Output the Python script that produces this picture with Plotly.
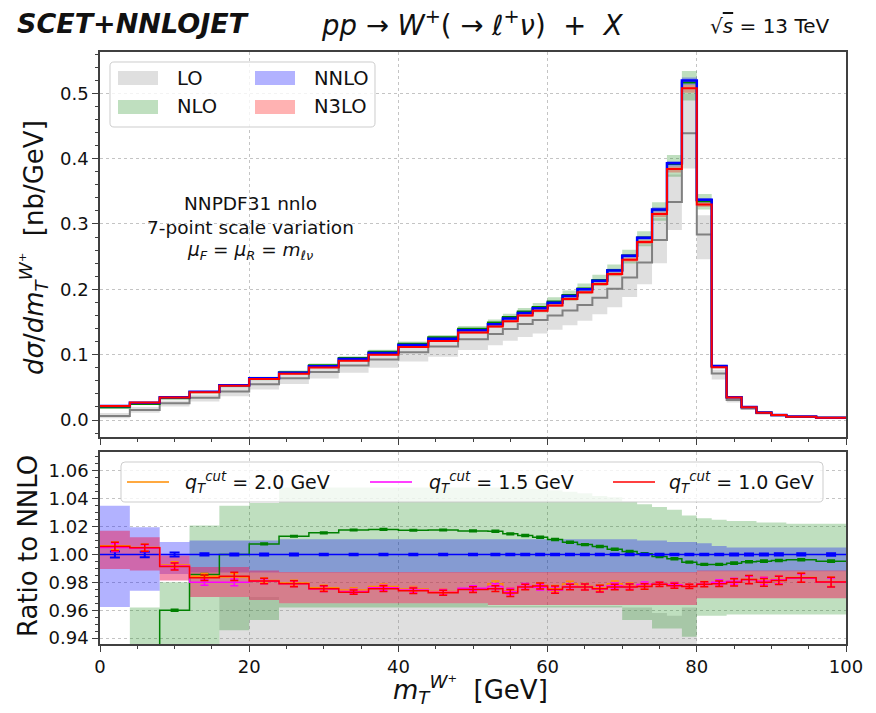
import plotly.graph_objects as go

# ---------------- data ----------------
edges = [0, 4, 8, 12, 16, 20, 24, 28, 32, 36, 40, 44, 48, 52,
         54, 56, 58, 60, 62, 64, 66, 68, 70, 72, 74, 76, 78, 80, 82, 84, 86, 88, 90, 92,
         96, 100]

# NNLO central cross section [nb/GeV]
nnlo_xs = [0.0213, 0.0266, 0.0347, 0.0433, 0.0532, 0.0638, 0.0723, 0.0824, 0.0932, 0.1025,
           0.1147, 0.1243, 0.1372,
           0.1466, 0.1553, 0.1638, 0.1710, 0.1796, 0.1898, 0.2000, 0.2132, 0.2288, 0.2512,
           0.2790, 0.3222, 0.3930, 0.5195, 0.3370, 0.0826, 0.0350, 0.0199, 0.0115, 0.0078,
           0.0052, 0.0035]

# ratios to NNLO central
lo_c = [0.28, 0.58, 0.74, 0.79, 0.823, 0.859, 0.885, 0.893, 0.897, 0.905, 0.905, 0.906, 0.902,
        0.899, 0.898, 0.897, 0.896, 0.891, 0.884, 0.880, 0.877, 0.878, 0.868, 0.864, 0.855,
        0.849, 0.845, 0.843, 0.86, 0.87, 0.88, 0.89, 0.90, 0.905, 0.91]
lo_hi = [0.50, 0.75, 0.86, 0.90, 0.9695, 0.9695, 0.965, 0.965, 0.965, 0.965, 0.965, 0.965, 0.965,
         0.963, 0.963, 0.963, 0.963, 0.963, 0.963, 0.963, 0.963, 0.963, 0.962, 0.962, 0.958,
         0.956, 0.962, 0.93, 0.93, 0.93, 0.93, 0.93, 0.93, 0.93, 0.93]
lo_lo = [0.12, 0.42, 0.60, 0.65, 0.68, 0.73, 0.76, 0.77, 0.775, 0.78, 0.78, 0.78, 0.78,
         0.78, 0.78, 0.775, 0.775, 0.77, 0.765, 0.76, 0.76, 0.755, 0.75, 0.745, 0.745,
         0.74, 0.741, 0.73, 0.75, 0.77, 0.79, 0.80, 0.81, 0.82, 0.82]

nlo_c = [0.900, 0.920, 0.960, 0.9857, 1.0000, 1.0076, 1.0131, 1.0155, 1.0176, 1.0180, 1.0174,
         1.0176, 1.0169,
         1.0167, 1.0148, 1.0136, 1.0124, 1.0107, 1.0088, 1.0071, 1.0057, 1.0038, 1.0021,
         1.0005, 0.9986, 0.9969, 0.9945, 0.9929, 0.9929, 0.9938, 0.9948, 0.9952, 0.9957,
         0.9962, 0.9952]
nlo_hi = [0.934, 0.962, 0.980, 1.0207, 1.035, 1.037, 1.048, 1.048, 1.048, 1.048, 1.048, 1.048,
          1.048,
          1.048, 1.048, 1.047, 1.047, 1.046, 1.045, 1.044, 1.042, 1.041, 1.038, 1.036, 1.034,
          1.032, 1.028, 1.026, 1.025, 1.024, 1.024, 1.023, 1.023, 1.022, 1.022]
nlo_lo = [0.86, 0.88, 0.92, 0.93, 0.9457, 0.953, 0.962, 0.962, 0.962, 0.962, 0.962, 0.962, 0.962,
          0.962, 0.962, 0.962, 0.962, 0.962, 0.962, 0.962, 0.962, 0.962, 0.953, 0.953, 0.947,
          0.947, 0.941, 0.956, 0.956, 0.957, 0.957, 0.957, 0.957, 0.957, 0.957]
nlo_err = [0.0006, 0.0006, 0.0005, 0.0005, 0.0004, 0.0004, 0.0004, 0.0004, 0.0004, 0.0004,
           0.0004, 0.0004, 0.0004, 0.0005, 0.0005, 0.0005, 0.0005, 0.0005, 0.0005, 0.0005,
           0.0005, 0.0005, 0.0005, 0.0005, 0.0005, 0.0005, 0.0005, 0.0005, 0.0005, 0.0006,
           0.0006, 0.0006, 0.0006, 0.0006, 0.0006]

nnlo_hi = [1.035, 1.0195, 1.009, 1.010, 1.010, 1.010, 1.011, 1.011, 1.011, 1.011, 1.011, 1.011,
           1.011,
           1.011, 1.011, 1.011, 1.011, 1.011, 1.011, 1.011, 1.011, 1.011, 1.011, 1.010, 1.010,
           1.009, 1.009, 1.008, 1.006, 1.005, 1.005, 1.005, 1.005, 1.005, 1.005]
nnlo_lo = [0.9624, 0.974, 0.986, 0.987, 0.987, 0.987, 0.987, 0.987, 0.987, 0.987, 0.987, 0.987,
           0.987,
           0.987, 0.987, 0.987, 0.987, 0.987, 0.987, 0.987, 0.987, 0.987, 0.987, 0.987, 0.987,
           0.987, 0.987, 0.988, 0.988, 0.988, 0.988, 0.988, 0.988, 0.988, 0.988]
nnlo_err = [0.0022, 0.0020, 0.0014, 0.0008, 0.0007, 0.0007, 0.0007, 0.0006, 0.0006, 0.0006,
            0.0006, 0.0006, 0.0006, 0.0006, 0.0006, 0.0006, 0.0006, 0.0006, 0.0006, 0.0006,
            0.0006, 0.0006, 0.0006, 0.0006, 0.0006, 0.0006, 0.0006, 0.0006, 0.0006, 0.0007,
            0.0007, 0.0007, 0.0008, 0.0008, 0.0009]

# N3LO, q_T^cut = 1.0 GeV (also shown in upper panel)
n3lo_c = [1.0057, 1.0048, 0.9914, 0.9833, 0.9843, 0.9810, 0.9790, 0.9755, 0.9730, 0.9755,
          0.9740, 0.9726, 0.9748,
          0.9755, 0.9724, 0.9767, 0.9774, 0.9748, 0.9767, 0.9767, 0.9755, 0.9767, 0.9767,
          0.9771, 0.9786, 0.9776, 0.9771, 0.9786, 0.9790, 0.9800, 0.9820, 0.9800, 0.9814,
          0.9833, 0.9802]
n3lo_hi = [1.017, 1.0124, 0.9993, 0.991, 0.991, 0.9886, 0.9874, 0.9874, 0.9874, 0.9874, 0.9874,
           0.9874, 0.9874,
           0.9874, 0.9874, 0.9874, 0.9874, 0.9874, 0.9874, 0.9874, 0.9874, 0.9874, 0.9874,
           0.9874, 0.9874, 0.9874, 0.9874, 0.9886, 0.9886, 0.9886, 0.9886, 0.9886, 0.9886,
           0.9886, 0.9886]
n3lo_lo = [0.9895, 0.9886, 0.9814, 0.9695, 0.9695, 0.9674, 0.965, 0.965, 0.965, 0.965, 0.965,
           0.965, 0.965,
           0.9638, 0.9638, 0.9638, 0.9638, 0.9638, 0.9638, 0.9638, 0.9638, 0.9638, 0.9638,
           0.9638, 0.9638, 0.9638, 0.9638, 0.9686, 0.9686, 0.9686, 0.9686, 0.9686, 0.9686,
           0.9686, 0.9686]
n3lo_err = [0.0030, 0.0025, 0.0025, 0.0020, 0.0030, 0.0020, 0.0022, 0.0020, 0.0016, 0.0020,
            0.0020, 0.0018, 0.0020, 0.0020, 0.0025, 0.0020, 0.0022, 0.0026, 0.0020, 0.0022,
            0.0024, 0.0020, 0.0022, 0.0020, 0.0015, 0.0018, 0.0015, 0.0018, 0.0020, 0.0026,
            0.0030, 0.0028, 0.0030, 0.0032, 0.0035]

# N3LO, q_T^cut = 2.0 GeV and 1.5 GeV (ratio panel only)
q20_c = [1.0062, 1.0050, 0.9925, 0.9843, 0.9838, 0.9814, 0.9795, 0.9762, 0.9745, 0.9770,
         0.9752, 0.9735, 0.9755,
         0.9790, 0.9740, 0.9770, 0.9778, 0.9755, 0.9788, 0.9772, 0.9760, 0.9790, 0.9775,
         0.9780, 0.9790, 0.9785, 0.9775, 0.9790, 0.9795, 0.9805, 0.9820, 0.9815, 0.9822,
         0.9835, 0.9805]
q20_err = [0.0028, 0.0024, 0.0022, 0.0020, 0.0025, 0.0018, 0.0020, 0.0018, 0.0016, 0.0018,
           0.0018, 0.0018, 0.0018, 0.0020, 0.0022, 0.0020, 0.0020, 0.0022, 0.0020, 0.0020,
           0.0022, 0.0020, 0.0020, 0.0018, 0.0015, 0.0016, 0.0015, 0.0016, 0.0018, 0.0022,
           0.0026, 0.0026, 0.0028, 0.0030, 0.0032]
q15_c = [1.0050, 1.0045, 0.9918, 0.9800, 0.9800, 0.9808, 0.9790, 0.9752, 0.9735, 0.9762,
         0.9745, 0.9730, 0.9758,
         0.9770, 0.9735, 0.9772, 0.9765, 0.9745, 0.9770, 0.9768, 0.9752, 0.9775, 0.9770,
         0.9785, 0.9788, 0.9783, 0.9772, 0.9788, 0.9800, 0.9808, 0.9818, 0.9810, 0.9818,
         0.9830, 0.9800]
q15_err = [0.0028, 0.0024, 0.0022, 0.0020, 0.0025, 0.0018, 0.0020, 0.0018, 0.0016, 0.0018,
           0.0018, 0.0018, 0.0018, 0.0020, 0.0022, 0.0020, 0.0020, 0.0022, 0.0020, 0.0020,
           0.0022, 0.0020, 0.0020, 0.0018, 0.0015, 0.0016, 0.0015, 0.0016, 0.0018, 0.0022,
           0.0026, 0.0026, 0.0028, 0.0030, 0.0032]

legend_top = ["LO", "NLO", "NNLO", "N3LO"]
legend_bottom = ["2.0", "1.5", "1.0"]

# ---------------- styling / geometry ----------------
FONT = "DejaVu Sans"
W, H = 876, 713
L, R, T, B = 100, 30, 52, 69
PW, PH = W - L - R, H - T - B
TOP_DOM = [(H - B - 437) / PH, 1.0]
BOT_DOM = [0.0, (H - B - 452) / PH]

C_LO, C_NLO, C_NNLO, C_N3LO = "#808080", "#008000", "#0000ff", "#ff0000"
F_LO = "rgba(128,128,128,0.25)"
F_NLO = "rgba(0,128,0,0.25)"
F_NNLO = "rgba(0,0,255,0.3)"
F_N3LO = "rgba(255,0,0,0.3)"
F_N3LO_R = "rgba(235,30,90,0.5)"


def pp(x, y):
    return (x - L) / PW, (H - B - y) / PH


nb = len(nnlo_xs)
centers = [(edges[i] + edges[i + 1]) / 2 for i in range(nb)]


def scale(r):
    return [a * b for a, b in zip(nnlo_xs, r)]


def steps(vals):
    xs, ys = [], []
    for i, v in enumerate(vals):
        xs += [edges[i], edges[i + 1]]
        ys += [v, v]
    return xs, ys


def band(lo, hi, color, xa, ya):
    xh, yh = steps(hi)
    xl, yl = steps(lo)
    return go.Scatter(x=xh + xl[::-1], y=yh + yl[::-1], fill="toself", fillcolor=color,
                      line=dict(width=0), mode="lines", xaxis=xa, yaxis=ya,
                      hoverinfo="skip", showlegend=False)


def stepline(vals, color, width, xa, ya):
    return go.Scatter(x=edges, y=list(vals) + [vals[-1]], mode="lines",
                      line=dict(color=color, width=width, shape="hv"),
                      xaxis=xa, yaxis=ya, hoverinfo="skip", showlegend=False)


def errbars(vals, errs, color, xa, ya, cap=4, th=1.5):
    return go.Scatter(x=centers, y=vals, mode="markers",
                      marker=dict(size=1, color="rgba(0,0,0,0)"),
                      error_y=dict(type="data", array=errs, color=color, thickness=th, width=cap),
                      xaxis=xa, yaxis=ya, hoverinfo="skip", showlegend=False)


ones = [1.0 for _ in nnlo_xs]
traces = []
# ---- upper panel ----
traces.append(band(scale(lo_lo), scale(lo_hi), F_LO, "x", "y"))
traces.append(band(scale(nlo_lo), scale(nlo_hi), F_NLO, "x", "y"))
traces.append(band(scale(nnlo_lo), scale(nnlo_hi), F_NNLO, "x", "y"))
traces.append(band(scale(n3lo_lo), scale(n3lo_hi), F_N3LO, "x", "y"))
traces.append(stepline(scale(lo_c), C_LO, 2, "x", "y"))
traces.append(stepline(scale(nlo_c), C_NLO, 2, "x", "y"))
traces.append(stepline(nnlo_xs, C_NNLO, 2.5, "x", "y"))
traces.append(stepline(scale(n3lo_c), C_N3LO, 2, "x", "y"))

# ---- ratio panel ----
traces.append(band(lo_lo, lo_hi, F_LO, "x2", "y2"))
traces.append(band(nlo_lo, nlo_hi, F_NLO, "x2", "y2"))
traces.append(band(nnlo_lo, nnlo_hi, F_NNLO, "x2", "y2"))
traces.append(band(n3lo_lo, n3lo_hi, F_N3LO_R, "x2", "y2"))
traces.append(stepline(lo_c, C_LO, 1.5, "x2", "y2"))
traces.append(stepline(nlo_c, C_NLO, 1.5, "x2", "y2"))
traces.append(errbars(nlo_c, nlo_err, C_NLO, "x2", "y2", cap=4, th=2))
traces.append(stepline(ones, C_NNLO, 1.5, "x2", "y2"))
traces.append(errbars(ones, nnlo_err, C_NNLO, "x2", "y2", cap=5, th=2))
traces.append(stepline(q20_c, "#ff8c00", 1.5, "x2", "y2"))
traces.append(errbars(q20_c, q20_err, "#ff8c00", "x2", "y2"))
traces.append(stepline(q15_c, "#ff00ff", 1.5, "x2", "y2"))
traces.append(errbars(q15_c, q15_err, "#ff00ff", "x2", "y2"))
traces.append(stepline(n3lo_c, C_N3LO, 1.5, "x2", "y2"))
traces.append(errbars(n3lo_c, n3lo_err, C_N3LO, "x2", "y2"))

fig = go.Figure(traces)

AX = "#404040"
tickfont = dict(family=FONT, size=18, color="#111")
common = dict(showline=True, linecolor=AX, linewidth=1.5, mirror=True, ticks="outside",
              ticklen=6, tickwidth=1.2, tickcolor=AX, showgrid=True, gridcolor="#c4c4c4",
              griddash="dot", gridwidth=1, zeroline=False, tickfont=tickfont)

fig.update_layout(
    width=W, height=H, margin=dict(l=L, r=R, t=T, b=B),
    paper_bgcolor="white", plot_bgcolor="white", showlegend=False,
    font=dict(family=FONT, color="#111"),
    xaxis=dict(domain=[0, 1], anchor="y", range=[0, 100], dtick=20, tick0=0,
               showticklabels=False, matches="x2",
               minor=dict(dtick=5, ticks="outside", ticklen=3.5, tickcolor=AX, showgrid=False),
               **common),
    yaxis=dict(domain=TOP_DOM, anchor="x", range=[-0.026, 0.5632], dtick=0.1, tick0=0,
               tickformat=".1f",
               minor=dict(dtick=0.02, ticks="outside", ticklen=3.5, tickcolor=AX, showgrid=False),
               **common),
    xaxis2=dict(domain=[0, 1], anchor="y2", range=[0, 100], dtick=20, tick0=0,
                minor=dict(dtick=5, ticks="outside", ticklen=3.5, tickcolor=AX, showgrid=False),
                **common),
    yaxis2=dict(domain=BOT_DOM, anchor="x2", range=[0.9358, 1.0735], dtick=0.02, tick0=0.94,
                tickformat=".2f",
                minor=dict(dtick=0.005, ticks="outside", ticklen=3.5, tickcolor=AX, showgrid=False),
                **common),
)


# ---------------- legends (drawn as shapes + text) ----------------
def rrect(x0, y0, x1, y1, r=4):
    def P(x, y):
        a, b = pp(x, y)
        return f"{a:.5f},{b:.5f}"
    return (f"M {P(x0 + r, y0)} L {P(x1 - r, y0)} Q {P(x1, y0)} {P(x1, y0 + r)} "
            f"L {P(x1, y1 - r)} Q {P(x1, y1)} {P(x1 - r, y1)} L {P(x0 + r, y1)} "
            f"Q {P(x0, y1)} {P(x0, y1 - r)} L {P(x0, y0 + r)} Q {P(x0, y0)} {P(x0 + r, y0)} Z")


shapes = []
annos = []


def box(x0, y0, x1, y1, fill):
    a0, b0 = pp(x0, y1)
    a1, b1 = pp(x1, y0)
    shapes.append(dict(type="rect", xref="paper", yref="paper", x0=a0, x1=a1, y0=b0, y1=b1,
                       fillcolor=fill, line=dict(color=fill, width=0), layer="above"))


def text(x, y, s, size, xanchor="left", yanchor="middle", angle=0, color="#111"):
    a, b = pp(x, y)
    annos.append(dict(xref="paper", yref="paper", x=a, y=b, text=s, showarrow=False,
                      xanchor=xanchor, yanchor=yanchor, textangle=angle,
                      font=dict(family=FONT, size=size, color=color)))


# upper legend
shapes.append(dict(type="path", xref="paper", yref="paper", path=rrect(110, 62, 375, 127),
                   fillcolor="rgba(255,255,255,0.8)", line=dict(color="rgba(200,200,200,0.9)", width=1),
                   layer="above"))
box(118, 71, 158, 85, F_LO)
box(118, 100, 158, 114, F_NLO)
box(255, 71, 295, 85, F_NNLO)
box(255, 100, 295, 114, F_N3LO)
text(175, 78, legend_top[0], 19.5)
text(175, 107, legend_top[1], 19.5)
text(312, 78, legend_top[2], 19.5)
text(312, 107, legend_top[3], 19.5)

# lower legend
shapes.append(dict(type="path", xref="paper", yref="paper", path=rrect(121, 462, 823, 502),
                   fillcolor="rgba(255,255,255,0.8)", line=dict(color="rgba(200,200,200,0.9)", width=1),
                   layer="above"))
for (lx, tx, col, lab) in [(127, 183, "#ff8c00", legend_bottom[0]),
                           (370, 427, "#ff00ff", legend_bottom[1]),
                           (613, 667, "#ff0000", legend_bottom[2])]:
    a0, b0 = pp(lx, 482)
    a1, _ = pp(lx + 42, 482)
    shapes.append(dict(type="line", xref="paper", yref="paper", x0=a0, x1=a1, y0=b0, y1=b0,
                       line=dict(color=col, width=1.5), layer="above"))
    text(tx, 482, f"<i>q</i><sub><i>T</i></sub><sup><i>cut</i></sup> = {lab} GeV", 19)

# header
text(15, 23, "<b><i>SCET+NNLOJET</i></b>", 27)
text(472, 23, "<i>pp</i> → <i>W</i><sup>+</sup>( → <i>ℓ</i><sup>+</sup><i>ν</i>)  +  <i>X</i>",
     27.5, xanchor="center")
text(770, 26, "√<span style='text-decoration:overline'><i>s</i></span> = 13 TeV", 20, xanchor="center")

# in-plot annotation
text(250, 203, "NNPDF31 nnlo", 18.5, xanchor="center")
text(250, 227, "7-point scale variation", 18.5, xanchor="center")
text(250, 251, "<i>μ</i><sub><i>F</i></sub> = <i>μ</i><sub><i>R</i></sub> = <i>m</i><sub><i>ℓν</i></sub>",
     18.5, xanchor="center")

# axis titles
text(34, 248, "<i>dσ</i>/<i>dm</i><sub><i>T</i></sub><sup><i>W</i>⁺</sup>  [nb/GeV]", 26,
     xanchor="center", angle=-90)
text(28, 546, "Ratio to NNLO", 26, xanchor="center", angle=-90)
text(470, 689, "<i>m</i><sub><i>T</i></sub><sup><i>W</i>⁺</sup>  [GeV]", 26, xanchor="center")

fig.update_layout(shapes=shapes, annotations=annos)
fig.write_html("out.html", config={"displayModeBar": False},
               post_script="document.body.style.margin='0';document.body.style.overflow='hidden';")
